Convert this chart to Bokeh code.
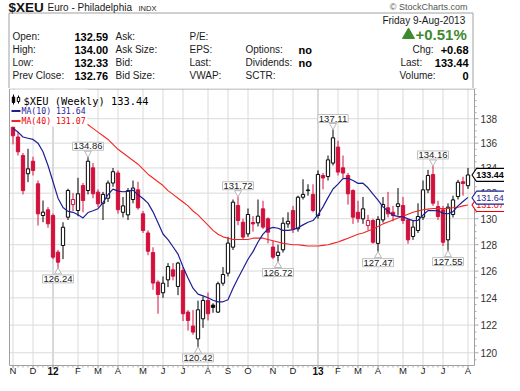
import numpy as np
from bokeh.plotting import figure
from bokeh.layouts import column
from bokeh.models import Range1d, Label, ColumnDataSource
from bokeh.core.properties import value
from bokeh.embed import file_html
from bokeh.resources import INLINE

# ---------------- data ----------------
# weekly bars: 1 = week ending 11-Nov-2011 ... 92 = week ending 9-Aug-2013
week = list(range(1, 93))
opens = [137.3, 136.5, 135.0, 133.54, 134.54, 132.74, 130.25, 130.69, 130.25, 127.43,
         127.94, 130.12, 131.1, 130.64, 132.6, 132.21, 134.01, 132.08, 131.2, 131.6,
         132.8, 133.6, 130.5, 130.3, 131.5, 132.26, 130.38, 128.9, 127.4, 125.17,
         124.38, 125.34, 126.09, 124.85, 126.04, 122.95, 121.93, 121.0, 122.46, 123.81,
         123.46, 122.95, 125.09, 125.84, 127.81, 131.03, 129.73, 128.83, 129.70, 129.68,
         130.77, 129.99, 127.82, 127.18, 127.61, 129.6, 130.64, 129.22, 131.68, 132.2,
         131.9, 130.25, 133.4, 133.32, 134.39, 135.68, 134.01, 133.40, 132.21, 130.5,
         129.99, 129.47, 129.86, 128.1, 129.91, 130.85, 130.5, 130.95, 131.03, 129.91,
         128.63, 129.09, 130.12, 132.26, 133.48, 130.95, 130.69, 128.37, 130.33, 131.73,
         132.9, 132.59]
highs = [137.7, 136.9, 135.2, 135.54, 134.9, 133.0, 131.42, 130.9, 130.4, 127.6,
         129.73, 132.35, 132.0, 133.21, 132.8, 134.86, 134.4, 132.3, 132.1, 133.0,
         134.0, 133.8, 131.7, 132.4, 133.0, 132.9, 130.6, 129.1, 127.8, 125.3,
         125.6, 126.6, 126.6, 126.7, 126.3, 123.1, 123.1, 123.8, 124.1, 124.4,
         123.6, 125.2, 126.3, 128.6, 131.5, 131.72, 130.0, 130.8, 130.2, 131.5,
         131.4, 130.1, 128.3, 128.0, 130.1, 130.5, 131.0, 131.8, 133.1, 132.7,
         132.7, 133.8, 133.6, 135.0, 137.11, 136.2, 135.0, 133.6, 132.3, 131.4,
         131.7, 130.3, 130.0, 130.2, 131.7, 132.1, 131.0, 132.4, 131.7, 130.0,
         129.86, 131.2, 133.0, 133.85, 134.16, 131.4, 131.0, 131.2, 131.8, 133.05,
         133.3, 134.00]
lows = [135.9, 135.0, 131.9, 132.87, 133.4, 129.47, 129.73, 129.3, 126.9, 126.24,
        126.9, 129.9, 130.6, 130.2, 130.5, 131.9, 131.6, 130.9, 129.9, 131.3,
        132.5, 130.4, 130.1, 129.9, 131.2, 130.7, 128.9, 127.2, 124.6, 122.83,
        124.0, 124.8, 125.3, 124.2, 122.3, 121.6, 121.3, 120.42, 121.8, 122.34,
        122.9, 122.9, 124.9, 125.6, 127.6, 129.5, 128.4, 128.6, 129.0, 129.4,
        129.2, 128.1, 126.9, 126.72, 127.4, 129.3, 128.9, 129.0, 131.5, 131.8,
        130.5, 130.0, 132.3, 133.0, 134.2, 133.4, 133.2, 131.1, 129.6, 129.7,
        129.6, 129.1, 128.07, 127.47, 129.7, 130.1, 129.8, 130.25, 129.6, 128.07,
        128.37, 128.9, 129.9, 132.0, 131.0, 129.9, 127.9, 127.55, 130.1, 131.5,
        131.8, 132.33]
closes = [136.6, 135.3, 132.2, 133.93, 133.80, 130.38, 130.51, 129.61, 127.05, 126.67,
          129.34, 132.21, 131.5, 131.95, 131.42, 134.54, 131.95, 131.16, 131.9, 132.8,
          133.7, 130.7, 131.0, 132.2, 132.4, 130.85, 129.09, 127.5, 125.1, 124.25,
          125.09, 126.34, 125.62, 126.6, 122.83, 122.34, 121.49, 123.12, 123.81, 122.83,
          123.30, 125.05, 125.74, 128.12, 131.29, 129.86, 128.58, 130.33, 129.60, 130.2,
          129.35, 128.96, 127.05, 127.43, 129.65, 129.8, 129.22, 131.68, 131.9, 132.25,
          130.64, 133.48, 133.2, 134.65, 136.43, 133.67, 133.59, 131.95, 130.12, 130.0,
          130.77, 129.86, 128.19, 129.95, 131.11, 130.38, 130.25, 131.16, 129.86, 128.37,
          129.35, 130.17, 132.26, 133.40, 131.21, 130.17, 128.19, 130.9, 131.47, 132.86,
          132.76, 133.44]
# MA(10) for the first 9 weeks (earlier closes are off the chart)
ma10_first = [137.2, 136.9, 136.5, 136.4, 136.3, 136.0, 135.3, 134.2, 132.9]
# MA(40)
ma40 = [140.4, 140.3, 140.2, 140.1, 140.0, 139.8, 139.7, 139.5, 139.3, 139.0,
        138.8, 138.5, 138.3, 138.0, 137.8, 137.5, 137.2, 136.9, 136.6, 136.3,
        135.9, 135.5, 135.2, 134.9, 134.6, 134.3, 133.9, 133.5, 133.2, 132.9,
        132.6, 132.2, 131.9, 131.6, 131.3, 131.0, 130.6, 130.3, 129.9, 129.5,
        129.1, 128.8, 128.6, 128.5, 128.4, 128.4, 128.4, 128.4, 128.5, 128.5,
        128.5, 128.4, 128.3, 128.2, 128.1, 128.05, 128.0, 128.0, 127.95, 127.9,
        127.9, 127.9, 127.95, 128.0, 128.1, 128.2, 128.35, 128.5, 128.65, 128.8,
        128.9, 129.05, 129.2, 129.4, 129.6, 129.75, 129.9, 130.05, 130.2, 130.35,
        130.5, 130.6, 130.7, 130.75, 130.8, 130.8, 130.8, 130.8, 130.85, 130.9,
        131.0, 131.07]

month_week = [1, 5, 9, 14, 18, 22, 27, 31, 35, 40, 44, 48, 53, 57, 62, 66, 70, 74, 79, 83, 87, 92]
month_text = ["N", "D", "12", "F", "M", "A", "M", "J", "J", "A", "S", "O",
              "N", "D", "13", "F", "M", "A", "M", "J", "J", "A"]
year_week = [9, 62]
price_ticks = [120, 122, 124, 126, 128, 130, 132, 134, 136, 138]

callout_week = [16, 10, 38, 46, 54, 65, 74, 85, 88]
callout_value = [134.86, 126.24, 120.42, 131.72, 126.72, 137.11, 127.47, 134.16, 127.55]
callout_kind = ["high", "low", "low", "high", "low", "high", "low", "high", "low"]

last_close = 133.44
ma10_last = 131.64
ma40_last = 131.07
legend_texts = ["$XEU (Weekly) 133.44", "MA(10) 131.64", "MA(40) 131.07"]

title_symbol = "$XEU"
title_name = "Euro - Philadelphia"
title_exch = "INDX"
credit = "\u00a9 StockCharts.com"
date_text = "Friday  9-Aug-2013"
pct_text = "+0.51%"
row_labels = ["Open:", "High:", "Low:", "Prev Close:"]
row_values = ["132.59", "134.00", "132.33", "132.76"]
col3_labels = ["Ask:", "Ask Size:", "Bid:", "Bid Size:"]
col4_labels = ["P/E:", "EPS:", "Last:", "VWAP:"]
col5_labels = ["Options:", "Dividends:", "SCTR:"]
col5_values = ["no", "no"]
right_labels = ["Chg:", "Last:", "Volume:"]
right_values = ["+0.68", "133.44", "0"]

# ---------------- styling / geometry ----------------
RED = "#d2103c"
BLACK = "#000000"
NAVY = "#1e1e96"
MA40C = "#f42525"
GRID = "#dadada"
YEARGRID = "#b4b4b4"
BORDER = "#a0a0a0"
TICK = "#a8a8a8"
GREEN = "#3d8a2f"
FONT = "Liberation Sans"

W, HEAD_H, CHART_H = 504, 88, 287
FRAME_L, FRAME_R, FRAME_T, FRAME_B = 17, 482, 96, 373   # page pixels of the price panel
X0, PXW = 15.5, 5.0         # page x of week 0, pixels per week
PXLN = 1675.0               # pixels per unit of ln(price)
Y_TOP = 140.51              # price at top of the price panel


def xv(px):
    return (px - X0) / PXW


def yv(py):
    return Y_TOP * np.exp(-(py - FRAME_T) / PXLN)


def up(v, px):
    return v * np.exp(px / PXLN)


# ---------------- header ----------------
h = figure(width=W, height=HEAD_H, x_range=Range1d(8, 8 + W), y_range=Range1d(8 + HEAD_H, 8),
           output_backend="svg", toolbar_location=None, min_border=0,
           x_axis_location=None, y_axis_location=None, title=None)
h.grid.visible = False
h.outline_line_color = None
h.quad(left=16.5, right=480.5, top=20.5, bottom=97, fill_color="white", line_color=BORDER)


def htext(x, y, t, size, bold=False, align="left", color="#1a1a1a"):
    h.text(x=x, y=y, text=t, text_font=value(FONT), text_font_size=size,
           text_font_style="bold" if bold else "normal", text_align=align,
           text_baseline="middle", text_color=color)


htext([16], [14.8], [title_symbol], "13.5px", bold=True, color="#111111")
htext([55], [15], [title_name], "10px")
htext([146], [15.5], [title_exch], "7.5px")
htext([475], [14], [credit], "9px", align="right", color="#555555")
htext([475.5], [27.5], [date_text], "10px", align="right")
h.scatter(x=[416], y=[42.5], marker="triangle", size=12, color=GREEN)
htext([423], [42], [pct_text], "15px", bold=True, color=GREEN)

row_y = [44, 57, 70, 83]
htext([20] * 4, row_y, row_labels, "10px")
htext([82] * 4, row_y, row_values, "11px", bold=True, color="#000000")
htext([123] * 4, row_y, col3_labels, "10px")
htext([197] * 4, row_y, col4_labels, "10px")
htext([253] * 3, row_y[1:], col5_labels, "10px")
htext([306] * 2, row_y[1:3], col5_values, "11px", bold=True, color="#000000")
htext([420, 408, 407], row_y[1:], right_labels, "10px")
htext([476, 476, 476], row_y[1:], right_values, "11px", bold=True, align="right", color="#000000")

# ---------------- price chart ----------------
p = figure(width=W, height=CHART_H, x_range=Range1d(xv(8), xv(8 + W)),
           y_range=Range1d(yv(8 + HEAD_H + CHART_H), Y_TOP), y_axis_type="log",
           x_axis_location=None, y_axis_location=None, output_backend="svg",
           toolbar_location=None, title=None, min_border=0)
p.grid.visible = False
p.outline_line_color = None
p.background_fill_color = "white"
p.border_fill_color = "white"

y_lo, y_hi = yv(FRAME_B), yv(FRAME_T + 0.5)
x_lo, x_hi = xv(FRAME_L), xv(FRAME_R)

# grid
norm_months = [m for m in month_week if m not in year_week]
p.segment(x0=norm_months, y0=[y_lo] * len(norm_months), x1=norm_months,
          y1=[y_hi] * len(norm_months), line_color=GRID, line_width=1)
p.segment(x0=year_week, y0=[y_lo] * 2, x1=year_week, y1=[y_hi] * 2,
          line_color=YEARGRID, line_width=1)
p.segment(x0=[x_lo] * len(price_ticks), y0=price_ticks, x1=[x_hi] * len(price_ticks),
          y1=price_ticks, line_color=GRID, line_width=1)

# candles
edge, fill = [], []
for k in range(len(week)):
    ref = closes[k - 1] if k > 0 else opens[k]
    e = RED if closes[k] < ref else BLACK
    edge.append(e)
    fill.append("white" if closes[k] > opens[k] else e)
src = ColumnDataSource(dict(x=week, h=highs, l=lows,
                            top=np.maximum(opens, closes), bot=np.minimum(opens, closes),
                            edge=edge, fill=fill))
p.segment(x0="x", y0="l", x1="x", y1="h", line_color="edge", line_width=1, source=src)
p.vbar(x="x", width=0.66, top="top", bottom="bot", fill_color="fill", line_color="edge",
       line_width=1, source=src)

# moving averages
ma10 = list(ma10_first) + [float(np.mean(closes[k - 9:k + 1])) for k in range(9, len(closes))]
p.line(week, ma40, line_color=MA40C, line_width=1.1)
p.line(week, ma10, line_color=NAVY, line_width=1.2)

# panel border, axis ticks
p.segment(x0=[x_lo, x_hi, x_lo, x_lo], y0=[y_lo, y_lo, y_lo, y_hi],
          x1=[x_lo, x_hi, x_hi, x_hi], y1=[y_hi, y_hi, y_lo, y_hi],
          line_color=BORDER, line_width=1)
minor_p = [float(v) for v in np.arange(119.5, 140.6, 0.5) if v not in price_ticks]
p.segment(x0=[x_hi] * len(minor_p), y0=minor_p, x1=[xv(FRAME_R + 2)] * len(minor_p), y1=minor_p,
          line_color=TICK)
p.segment(x0=[x_hi] * len(price_ticks), y0=price_ticks, x1=[xv(FRAME_R + 4)] * len(price_ticks),
          y1=price_ticks, line_color=TICK)
p.segment(x0=week, y0=[y_lo] * len(week), x1=week, y1=[yv(FRAME_B + 2)] * len(week),
          line_color=TICK)
p.segment(x0=month_week, y0=[y_lo] * len(month_week), x1=month_week,
          y1=[yv(FRAME_B + 3)] * len(month_week), line_color=TICK)

# axis labels
p.text(x=[xv(488)] * len(price_ticks), y=price_ticks, text=[str(t) for t in price_ticks],
       text_font=value(FONT), text_font_size="10px", text_baseline="middle",
       text_color="#333333")
LBL_Y = yv(378)
norm_idx = [i for i, m in enumerate(month_week) if m not in year_week]
p.text(x=[month_week[i] for i in norm_idx], y=[LBL_Y] * len(norm_idx),
       text=[month_text[i] for i in norm_idx], text_font=value(FONT), text_font_size="9.5px",
       text_align="center", text_baseline="middle", text_color="#222222")
year_idx = [i for i, m in enumerate(month_week) if m in year_week]
p.text(x=[month_week[i] for i in year_idx], y=[LBL_Y] * len(year_idx),
       text=[month_text[i] for i in year_idx], text_font=value(FONT), text_font_size="10px",
       text_font_style="bold", text_align="center", text_baseline="middle",
       text_color="#111111")

# legend box and entries
p.quad(left=[xv(17.5)], right=[xv(95)], top=[yv(97)], bottom=[yv(134)],
       fill_color="white", line_alpha=0)
for yy, col in [(118.5, NAVY), (128.5, MA40C)]:
    p.line([xv(19), xv(28)], [yv(yy), yv(yy)], line_color=col, line_width=2)
p.segment(x0=[xv(21), xv(26)], y0=[yv(112), yv(111)], x1=[xv(21), xv(26)],
          y1=[yv(102), yv(103)], line_color="black")
p.quad(left=[xv(19.8), xv(24.8)], right=[xv(22.2), xv(27.2)],
       top=[yv(104.5), yv(105)], bottom=[yv(110), yv(109)],
       fill_color=["black", "white"], line_color="black")
p.text(x=[xv(31)], y=[yv(108)], text=[legend_texts[0]], text_baseline="middle",
       text_font=value("DejaVu Sans Mono"), text_font_size="10.4px", text_color="#000000")
p.text(x=[xv(29)], y=[yv(118.5)], text=[legend_texts[1]], text_baseline="middle",
       text_font=value("DejaVu Sans Mono"), text_font_size="8.2px", text_color=NAVY)
p.text(x=[xv(29)], y=[yv(128.5)], text=[legend_texts[2]], text_baseline="middle",
       text_font=value("DejaVu Sans Mono"), text_font_size="8.2px", text_color="#ee0000")

# high / low call-outs
for wk, val, kind in zip(callout_week, callout_value, callout_kind):
    sgn = 1 if kind == "high" else -1
    p.scatter([wk], [up(val, 4 * sgn)], marker="inverted_triangle" if sgn > 0 else "triangle",
              size=7, fill_color="white", line_color="#b8b8b8")
    p.add_layout(Label(x=wk, y=up(val, 7 * sgn), text=f"{val:.2f}", text_align="center",
                       text_baseline="bottom" if sgn > 0 else "top", text_font=FONT,
                       text_font_size="9.5px", text_color="#222222",
                       background_fill_color="white", border_line_color="#c0c0c0", padding=1))

# price tags on the right axis
for val, col, bold in [(ma40_last, "#ee0000", False), (ma10_last, NAVY, False),
                       (last_close, "#000000", True)]:
    xs = [xv(479.5), xv(484), xv(514), xv(514), xv(484)]
    ys = [val, up(val, 6.5), up(val, 6.5), up(val, -6.5), up(val, -6.5)]
    p.patch(xs, ys, fill_color="white", line_color=col, line_width=1.2)
    p.text(x=[xv(497.5)], y=[val], text=[f"{val:.2f}"], text_align="center",
           text_baseline="middle", text_font=value(FONT),
           text_font_size="9px", text_font_style="bold" if bold else "normal",
           text_color=col)

layout = column(h, p, spacing=0)
open("out.html", "w").write(file_html(layout, INLINE))
